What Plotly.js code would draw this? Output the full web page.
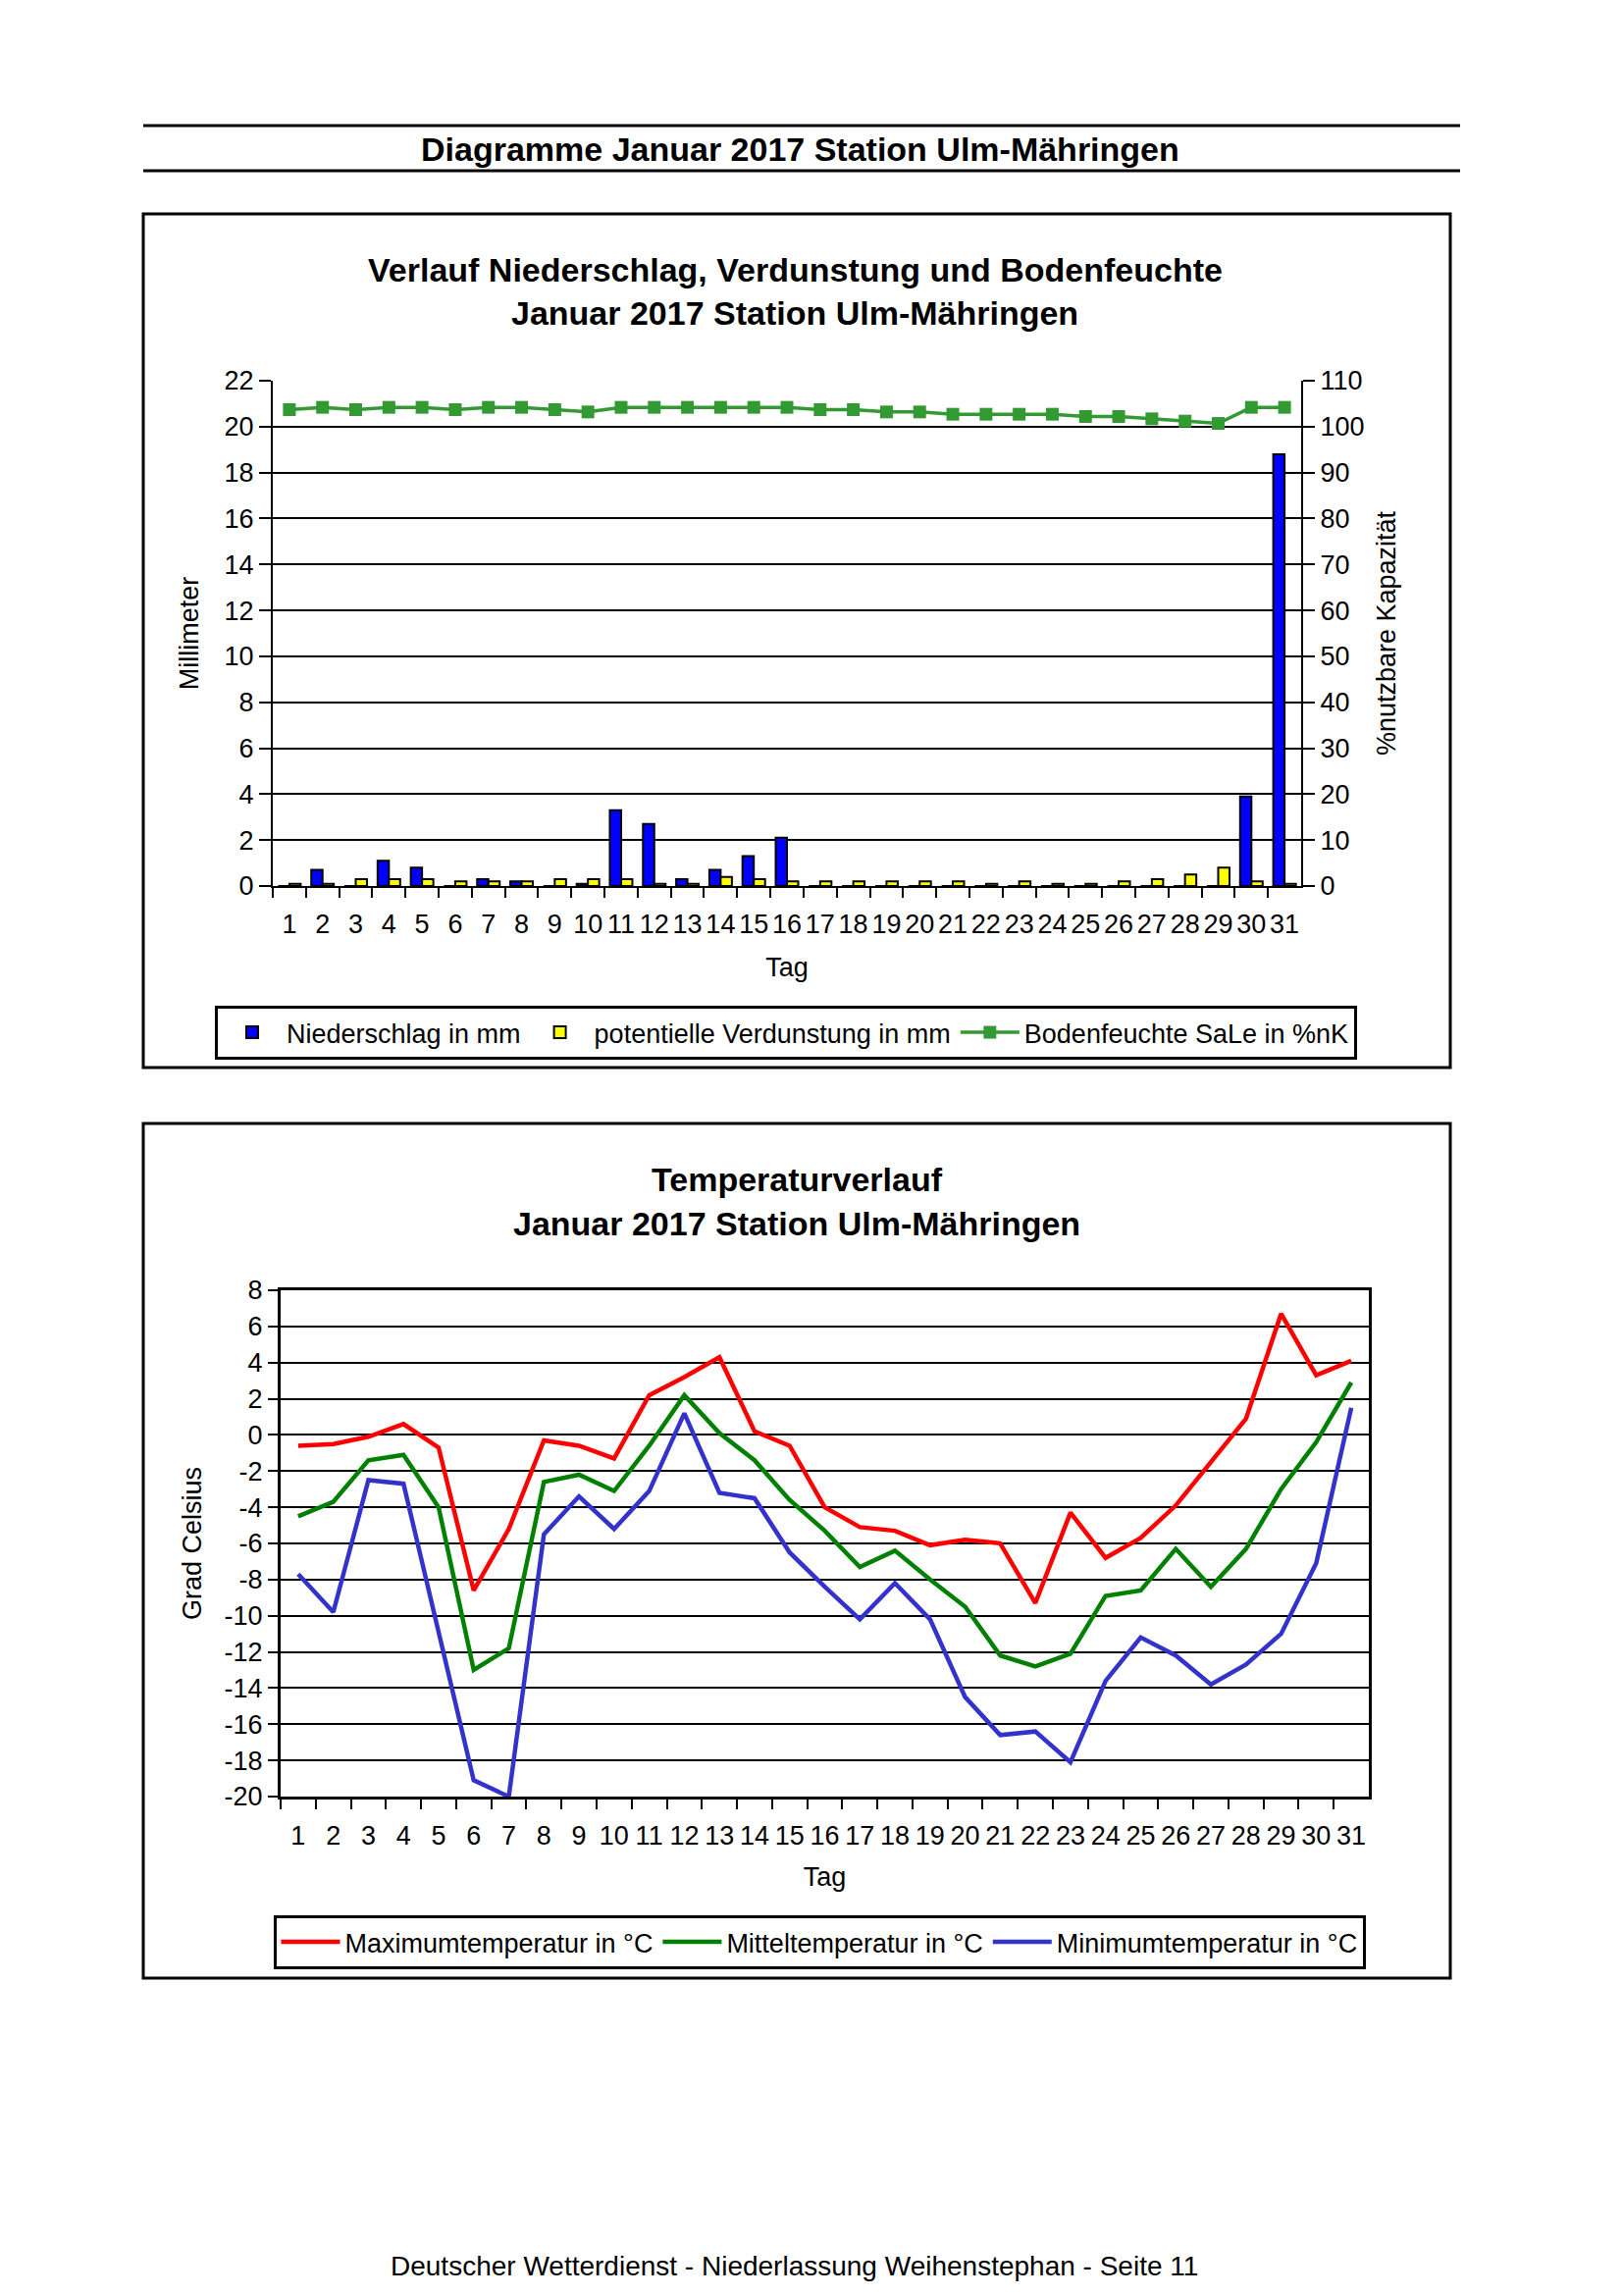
<!DOCTYPE html>
<html>
<head>
<meta charset="utf-8">
<script src="https://cdn.plot.ly/plotly-3.0.1.min.js"></script>
<style>
  html, body { margin: 0; padding: 0; background: #ffffff; }
  #chart { width: 1653px; height: 2340px; }
</style>
</head>
<body>
<div id="chart"></div>
<script>
// ---------------- Data ----------------
const days = [1,2,3,4,5,6,7,8,9,10,11,12,13,14,15,16,17,18,19,20,21,22,23,24,25,26,27,28,29,30,31];
const dayLabels = days.map(String);

// Niederschlag in mm
const niederschlag = [0,0.7,0,1.1,0.8,0,0.3,0.2,0,0.1,3.3,2.7,0.3,0.7,1.3,2.1,0,0,0,0,0,0,0,0,0,0,0,0,0,3.9,18.8];
// potentielle Verdunstung in mm
const verdunstung = [0.1,0.1,0.3,0.3,0.3,0.2,0.2,0.2,0.3,0.3,0.3,0.1,0.1,0.4,0.3,0.2,0.2,0.2,0.2,0.2,0.2,0.1,0.2,0.1,0.1,0.2,0.3,0.5,0.8,0.2,0.1];
// Bodenfeuchte SaLe in %nK
const bodenfeuchte = [103.7,104.2,103.7,104.2,104.2,103.7,104.2,104.2,103.7,103.2,104.2,104.2,104.2,104.2,104.2,104.2,103.7,103.7,103.2,103.2,102.7,102.7,102.7,102.7,102.2,102.2,101.7,101.2,100.7,104.2,104.2];

// Temperatures in °C
const tMax = [-0.6,-0.5,-0.1,0.6,-0.7,-8.6,-5.2,-0.3,-0.6,-1.3,2.2,3.2,4.3,0.2,-0.6,-4.0,-5.1,-5.3,-6.1,-5.8,-6.0,-9.3,-4.3,-6.8,-5.7,-3.9,-1.5,0.9,6.7,3.3,4.1];
const tMit = [-4.5,-3.7,-1.4,-1.1,-4.0,-13.0,-11.8,-2.6,-2.2,-3.1,-0.6,2.2,0.1,-1.4,-3.6,-5.3,-7.3,-6.4,-8.0,-9.5,-12.2,-12.8,-12.1,-8.9,-8.6,-6.3,-8.4,-6.3,-3.0,-0.4,2.9];
const tMin = [-7.7,-9.8,-2.5,-2.7,-10.9,-19.1,-20.0,-5.5,-3.4,-5.2,-3.1,1.2,-3.2,-3.5,-6.5,-8.4,-10.2,-8.2,-10.2,-14.5,-16.6,-16.4,-18.1,-13.6,-11.2,-12.2,-13.8,-12.7,-11.0,-7.1,1.5];

const tempTicks = [-20,-18,-16,-14,-12,-10,-8,-6,-4,-2,0,2,4,6,8];
const tempTickText = tempTicks.map(String);

// ---------------- Layout helpers ----------------
const W = 1653, H = 2340;
const px = v => v / W;          // x pixel -> paper
const py = v => 1 - v / H;      // y pixel (from top) -> paper
const FONT = 'Liberation Sans, Arial, sans-serif';

const traces = [
  {
    type: 'bar', name: 'Niederschlag in mm', x: days, y: niederschlag,
    xaxis: 'x', yaxis: 'y', legend: 'legend',
    marker: { color: '#0000FF', line: { color: '#000000', width: 2 } }
  },
  {
    type: 'bar', name: 'potentielle Verdunstung in mm', x: days, y: verdunstung,
    xaxis: 'x', yaxis: 'y', legend: 'legend',
    marker: { color: '#FFFF00', line: { color: '#000000', width: 2 } }
  },
  {
    type: 'scatter', mode: 'lines+markers', name: 'Bodenfeuchte SaLe in %nK',
    x: days, y: bodenfeuchte, xaxis: 'x', yaxis: 'y2', legend: 'legend',
    line: { color: '#339933', width: 3.5 },
    marker: { symbol: 'square', size: 13, color: '#339933' }
  },
  {
    type: 'scatter', mode: 'lines', name: 'Maximumtemperatur in °C',
    x: days, y: tMax, xaxis: 'x3', yaxis: 'y3', legend: 'legend2',
    line: { color: '#FF0000', width: 4.5 }
  },
  {
    type: 'scatter', mode: 'lines', name: 'Mitteltemperatur in °C',
    x: days, y: tMit, xaxis: 'x3', yaxis: 'y3', legend: 'legend2',
    line: { color: '#008000', width: 4.5 }
  },
  {
    type: 'scatter', mode: 'lines', name: 'Minimumtemperatur in °C',
    x: days, y: tMin, xaxis: 'x3', yaxis: 'y3', legend: 'legend2',
    line: { color: '#3333CC', width: 4.5 }
  }
];

const tickFont = { family: FONT, size: 27, color: '#000000' };
const titleFont = { family: FONT, size: 27, color: '#000000' };
const boldSize = 34;

const layout = {
  width: W, height: H, autosize: false,
  margin: { l: 0, r: 0, t: 0, b: 0, pad: 0 },
  paper_bgcolor: '#ffffff', plot_bgcolor: '#ffffff',
  font: { family: FONT, size: 27, color: '#000000' },
  barmode: 'group', bargap: 0.32, bargroupgap: 0,
  showlegend: true,
  xaxis: {
    domain: [px(278), px(1326)], anchor: 'y', type: 'category',
    categoryorder: 'array', categoryarray: days,
    tickvals: days, ticktext: dayLabels, tickangle: 0, ticklabelstandoff: 14,
    range: [-0.5, 30.5], tickson: 'boundaries',
    ticks: 'outside', ticklen: 10, tickwidth: 2, tickcolor: '#000',
    showline: true, linecolor: '#000', linewidth: 2,
    showgrid: false, zeroline: false, tickfont: tickFont,
    title: { text: 'Tag', font: titleFont, standoff: 20 }
  },
  yaxis: {
    domain: [py(903), py(388)], anchor: 'x', range: [0, 22], dtick: 2, tick0: 0,
    ticks: 'outside', ticklen: 12, tickwidth: 2, tickcolor: '#000',
    showline: true, linecolor: '#000', linewidth: 2,
    showgrid: true, gridcolor: '#000', gridwidth: 2, zeroline: false,
    tickfont: tickFont,
    title: { text: 'Millimeter', font: titleFont, standoff: 18 }
  },
  yaxis2: {
    overlaying: 'y', side: 'right', anchor: 'x', range: [0, 110], dtick: 10, tick0: 0,
    ticks: 'outside', ticklen: 12, tickwidth: 2, tickcolor: '#000',
    showline: true, linecolor: '#000', linewidth: 2,
    showgrid: false, zeroline: false, tickfont: tickFont,
    title: { text: '%nutzbare Kapazität', font: titleFont, standoff: 14 }
  },
  xaxis3: {
    domain: [px(286), px(1395)], anchor: 'y3', type: 'category',
    categoryorder: 'array', categoryarray: days,
    tickvals: days, ticktext: dayLabels, tickangle: 0, ticklabelstandoff: 14,
    range: [-0.5, 30.5], tickson: 'boundaries',
    ticks: 'outside', ticklen: 10, tickwidth: 2, tickcolor: '#000',
    showline: true, linecolor: '#000', linewidth: 3, mirror: true,
    showgrid: false, zeroline: false, tickfont: tickFont,
    title: { text: 'Tag', font: titleFont, standoff: 18 }
  },
  yaxis3: {
    domain: [py(1831), py(1315)], anchor: 'x3', range: [-20, 8],
    tickmode: 'array', tickvals: tempTicks, ticktext: tempTickText,
    ticks: 'outside', ticklen: 10, tickwidth: 2, tickcolor: '#000',
    showline: true, linecolor: '#000', linewidth: 3, mirror: true,
    showgrid: true, gridcolor: '#000', gridwidth: 2, zeroline: false,
    tickfont: tickFont,
    title: { text: 'Grad Celsius', font: titleFont, standoff: 16 }
  },
  legend: {
    orientation: 'h', x: px(801), xanchor: 'center', y: py(1025), yanchor: 'top',
    bgcolor: '#ffffff', bordercolor: '#000', borderwidth: 3, itemwidth: 60,
    font: { family: FONT, size: 27, color: '#000' }, traceorder: 'normal'
  },
  legend2: {
    orientation: 'h', x: px(835), xanchor: 'center', y: py(1952), yanchor: 'top',
    bgcolor: '#ffffff', bordercolor: '#000', borderwidth: 3, itemwidth: 60,
    font: { family: FONT, size: 27, color: '#000' }, traceorder: 'normal'
  },
  shapes: [
    { type: 'line', xref: 'paper', yref: 'paper', x0: px(146), x1: px(1488), y0: py(128), y1: py(128), line: { color: '#000', width: 3 } },
    { type: 'line', xref: 'paper', yref: 'paper', x0: px(146), x1: px(1488), y0: py(174), y1: py(174), line: { color: '#000', width: 3 } },
    { type: 'rect', xref: 'paper', yref: 'paper', x0: px(146), x1: px(1478), y0: py(1088), y1: py(218), line: { color: '#000', width: 3 }, layer: 'below' },
    { type: 'rect', xref: 'paper', yref: 'paper', x0: px(146), x1: px(1478), y0: py(2016), y1: py(1145), line: { color: '#000', width: 3 }, layer: 'below' }
  ],
  annotations: [
    { xref: 'paper', yref: 'paper', x: px(815), y: py(152), text: '<b>Diagramme Januar 2017 Station Ulm-Mähringen</b>', showarrow: false, xanchor: 'center', yanchor: 'middle', font: { family: FONT, size: boldSize, color: '#000' } },
    { xref: 'paper', yref: 'paper', x: px(810), y: py(275), text: '<b>Verlauf Niederschlag, Verdunstung und Bodenfeuchte</b>', showarrow: false, xanchor: 'center', yanchor: 'middle', font: { family: FONT, size: boldSize, color: '#000' } },
    { xref: 'paper', yref: 'paper', x: px(810), y: py(319), text: '<b>Januar 2017 Station Ulm-Mähringen</b>', showarrow: false, xanchor: 'center', yanchor: 'middle', font: { family: FONT, size: boldSize, color: '#000' } },
    { xref: 'paper', yref: 'paper', x: px(812), y: py(1202), text: '<b>Temperaturverlauf</b>', showarrow: false, xanchor: 'center', yanchor: 'middle', font: { family: FONT, size: boldSize, color: '#000' } },
    { xref: 'paper', yref: 'paper', x: px(812), y: py(1247), text: '<b>Januar 2017 Station Ulm-Mähringen</b>', showarrow: false, xanchor: 'center', yanchor: 'middle', font: { family: FONT, size: boldSize, color: '#000' } },
    { xref: 'paper', yref: 'paper', x: px(809), y: py(2309), text: 'Deutscher Wetterdienst - Niederlassung Weihenstephan - Seite 11', showarrow: false, xanchor: 'center', yanchor: 'middle', font: { family: FONT, size: 28, color: '#000' } }
  ]
};

Plotly.newPlot('chart', traces, layout, { displayModeBar: false, staticPlot: true });
</script>
</body>
</html>
